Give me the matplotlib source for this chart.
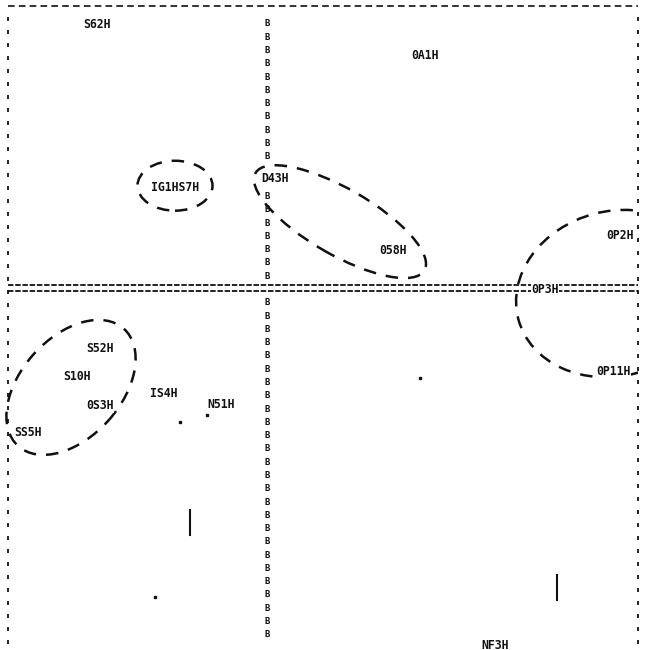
import numpy as np
import matplotlib
matplotlib.use("Agg")
import matplotlib.pyplot as plt
from matplotlib.patches import Ellipse, Rectangle


# station labels (printer-plot coordinates, axis crossing at 0,0)
labels = ["S62H", "0A1H", "IG1HS7H", "D43H", "058H", "0P2H", "0P3H",
          "0P11H", "S52H", "S10H", "IS4H", "N51H", "0S3H", "SS5H", "NF3H"]
label_x = [-17.0, 15.8, -9.2, 0.8, 12.6, 35.3, 27.8,
           34.6, -16.7, -19.0, -10.3, -4.6, -16.7, -23.9, 22.8]
label_y = [26.3, 23.2, 10.0, 10.9, 3.7, 5.2, -0.2,
           -8.4, -6.1, -8.9, -10.6, -11.7, -11.8, -14.5, -35.8]

# group outlines: centre x, centre y, width, height, angle
group_cx = [-9.2, 7.3, 34.8, -19.6]
group_cy = [10.2, 6.6, -0.6, -10.0]
group_w = [7.5, 19.5, 20.0, 15.8]
group_h = [5.0, 6.6, 16.5, 10.0]
group_ang = [0, -30, 15, 48]

# stray marks from the printout
tick_x = [-7.7, 29.0]
tick_y0 = [-22.3, -28.8]
tick_y1 = [-24.8, -31.3]
dot_x = [15.3, -8.7, -6.0, -11.2]
dot_y = [-9.1, -13.5, -12.8, -31.0]

XMIN, XMAX = -25.9, 37.1
YMIN, YMAX = -36.3, 28.2

fig = plt.figure(figsize=(6.45, 6.5), dpi=100)
ax = fig.add_axes([0, 0, 1, 1])
ax.set_xlim(XMIN - 0.8, XMAX + 0.7)
ax.set_ylim(YMIN, YMAX + 0.6)
ax.axis("off")

ink = "#111111"
mono = "DejaVu Sans Mono"

# frame: dashed top, dotted sides
ax.plot([XMIN, XMAX], [YMAX, YMAX], color=ink, lw=1.2, ls=(0, (4, 2.5)))
side_y = np.arange(YMAX - 1.3, YMIN, -1.3)
ax.plot(np.full_like(side_y, XMIN), side_y, ls="none", marker="|",
        ms=3, mew=1.3, color=ink)
ax.plot(np.full_like(side_y, XMAX), side_y, ls="none", marker="|",
        ms=3, mew=1.3, color=ink)

# horizontal axis: doubled dashes
for dy in (0.3, -0.3):
    ax.plot([XMIN, XMAX], [dy, dy], color=ink, lw=1.3, ls=(0, (3, 1)))

# vertical axis: column of B characters
axis_y = np.arange(YMAX - 1.8, YMIN + 0.7, -1.33)
for yy in axis_y:
    if abs(yy) < 0.7 or abs(yy - 10.9) < 1.0:
        continue
    ax.text(0, yy, "B", fontsize=6.5, family=mono,
            ha="center", va="center", color=ink, weight="bold")

for lab, x, y in zip(labels, label_x, label_y):
    ax.text(x, y, lab, fontsize=8.3, family=mono,
            ha="center", va="center", color=ink, weight="bold",
            bbox=dict(facecolor="white", edgecolor="none", pad=0.5))

clip = Rectangle((XMIN - 0.3, YMIN), XMAX - XMIN + 0.3, YMAX - YMIN,
                 transform=ax.transData)
for cx, cy, w, h, a in zip(group_cx, group_cy, group_w, group_h, group_ang):
    e = Ellipse((cx, cy), w, h, angle=a, fill=False, edgecolor=ink,
                lw=1.8, ls=(0, (5, 4)))
    ax.add_patch(e)
    e.set_clip_path(clip)

for x, y0, y1 in zip(tick_x, tick_y0, tick_y1):
    ax.plot([x, x], [y0, y1], color=ink, lw=1.5)
ax.plot(dot_x, dot_y, ls="none", marker="s", ms=1.5, color=ink)

fig.savefig("out.png", dpi=100, facecolor="white")
